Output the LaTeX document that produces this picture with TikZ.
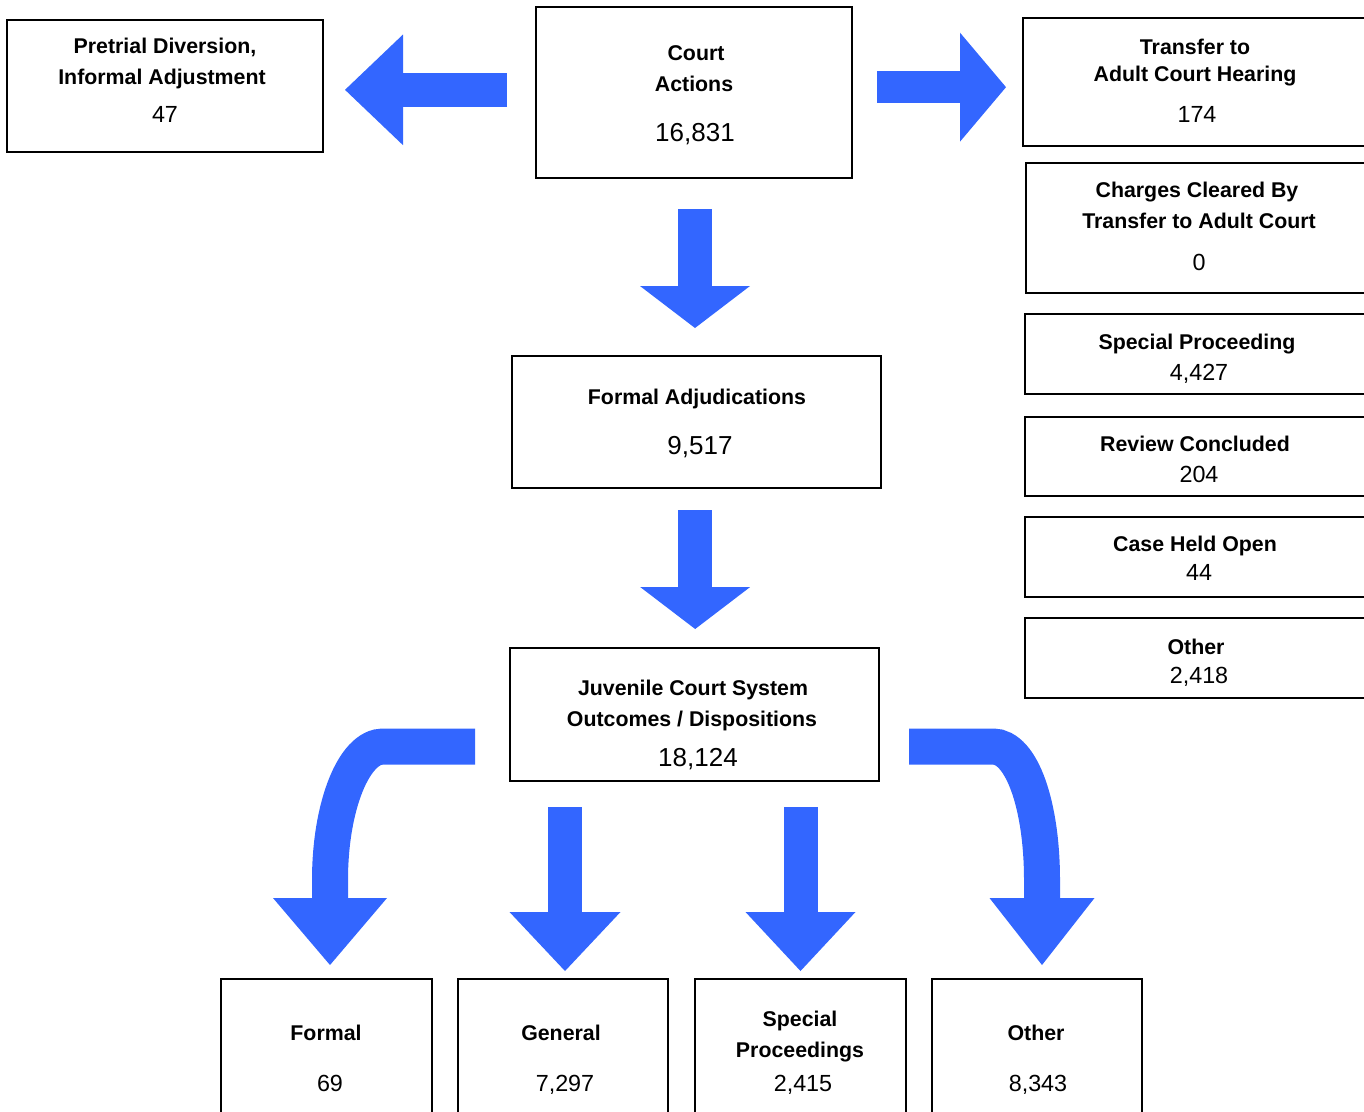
\documentclass[tikz,border=0pt]{standalone}
\usepackage{fontspec}
\setmainfont{Liberation Sans}
\usetikzlibrary{arrows.meta,fit,calc}
\definecolor{arrowblue}{RGB}{51,102,255}
\tikzset{
  box/.style={draw, line width=1.5pt, inner sep=0pt},
  lbl/.style={font=\fontsize{16}{19}\selectfont\bfseries, anchor=base, inner sep=0pt},
  num/.style={font=\fontsize{17.5}{20}\selectfont, anchor=base, inner sep=0pt},
  bignum/.style={font=\fontsize{19.5}{22}\selectfont, anchor=base, inner sep=0pt},
  bigarrow/.style n args={3}{draw=arrowblue, line width=#1, -{Triangle[width=#2, length=#3, line width=0pt]}}
}

\begin{document}
\begin{tikzpicture}[x=0.75pt, y=-0.75pt]
\useasboundingbox (0,0) rectangle (1364,1111);
\clip (0,0) rectangle (1364,1111);

% boxes
\node[box, fit={(7,20) (323,152)}] (pretrial) {};
\node[box, fit={(536,7) (852,178)}] (court) {};
\node[box, fit={(1023,18) (1380,146)}] (transfer) {};
\node[box, fit={(1026,163) (1380,293)}] (cleared) {};
\node[box, fit={(1025,314) (1380,394)}] (specproc) {};
\node[box, fit={(1025,417) (1380,496)}] (review) {};
\node[box, fit={(1025,517) (1380,597)}] (heldopen) {};
\node[box, fit={(1025,618) (1380,698)}] (otherright) {};
\node[box, fit={(512,356) (881,488)}] (fadj) {};
\node[box, fit={(510,648) (879,781)}] (juv) {};
\node[box, fit={(221,979) (432,1130)}] (fml) {};
\node[box, fit={(458,979) (668,1130)}] (gen) {};
\node[box, fit={(695,979) (906,1130)}] (spc) {};
\node[box, fit={(932,979) (1142,1130)}] (oth) {};

% texts
\node[lbl] (pretrial-l1) at (165,53.6) {Pretrial Diversion,};
\node[lbl] (pretrial-l2) at (162,84.6) {Informal Adjustment};
\node[num] (pretrial-n) at (165,122.3) {47};
\node[lbl] (court-l1) at (696,60.6) {Court};
\node[lbl] (court-l2) at (694,91.6) {Actions};
\node[bignum] (court-n) at (695,141.3) {16,831};
\node[lbl] (transfer-l1) at (1195,54.6) {Transfer to};
\node[lbl] (transfer-l2) at (1195,81.6) {Adult Court Hearing};
\node[num] (transfer-n) at (1197,122.3) {174};
\node[lbl] (cleared-l1) at (1197,197.6) {Charges Cleared By};
\node[lbl] (cleared-l2) at (1199,228.6) {Transfer to Adult Court};
\node[num] (cleared-n) at (1199,270.3) {0};
\node[lbl] (specproc-l) at (1197,349.6) {Special Proceeding};
\node[num] (specproc-n) at (1199,380.3) {4,427};
\node[lbl] (review-l) at (1195,451.6) {Review Concluded};
\node[num] (review-n) at (1199,482.3) {204};
\node[lbl] (heldopen-l) at (1195,551.6) {Case Held Open};
\node[num] (heldopen-n) at (1199,580.3) {44};
\node[lbl] (otherright-l) at (1196,654.6) {Other};
\node[num] (otherright-n) at (1199,683.3) {2,418};
\node[lbl] (fadj-l) at (697,404.6) {Formal Adjudications};
\node[bignum] (fadj-n) at (700,454.3) {9,517};
\node[lbl] (juv-l1) at (693,695.6) {Juvenile Court System};
\node[lbl] (juv-l2) at (692,726.6) {Outcomes / Dispositions};
\node[bignum] (juv-n) at (698,766.3) {18,124};
\node[lbl] (fml-l) at (326,1040.6) {Formal};
\node[num] (fml-n) at (330,1091.3) {69};
\node[lbl] (gen-l) at (561,1040.6) {General};
\node[num] (gen-n) at (565,1091.3) {7,297};
\node[lbl] (spc-l1) at (800,1026.6) {Special};
\node[lbl] (spc-l2) at (800,1057.6) {Proceedings};
\node[num] (spc-n) at (803,1091.3) {2,415};
\node[lbl] (oth-l) at (1036,1040.6) {Other};
\node[num] (oth-n) at (1038,1091.3) {8,343};

% arrows
\draw[bigarrow={25.5pt}{83pt}{43.5pt}, shorten <=21pt, shorten >=15.75pt] ([yshift=2pt]court.west) -- ([yshift=2pt]court.west -| pretrial.east);
\draw[bigarrow={24pt}{81.75pt}{34.5pt}, shorten <=18pt, shorten >=12pt] ([yshift=4pt]court.east) -- ([yshift=4pt]court.east -| transfer.west);
\draw[bigarrow={25.5pt}{82.5pt}{31.5pt}, shorten <=22.5pt, shorten >=20.25pt] ([xshift=0.75pt]court.south) -- ([xshift=0.75pt]court.south |- fadj.north);
\draw[bigarrow={25.5pt}{82.5pt}{31.5pt}, shorten <=15.75pt, shorten >=13.5pt] ([xshift=-1pt]fadj.south) -- ([xshift=-1pt]fadj.south |- juv.north);
\draw[bigarrow={25.5pt}{83.25pt}{44.25pt}, shorten <=18.75pt, shorten >=5.25pt] ([xshift=1.5pt]gen.north |- juv.south) -- ([xshift=1.5pt]gen.north);
\draw[bigarrow={25.5pt}{82.5pt}{44.25pt}, shorten <=18.75pt, shorten >=5.25pt] (spc.north |- juv.south) -- (spc.north);
\draw[bigarrow={27pt}{85.5pt}{50.25pt}] ($(juv.west)+(-34,32)$) -- (383,746.5) .. controls (354,746.5) and (330,806) .. (330,880) -- (330,965);
\draw[bigarrow={27pt}{78.75pt}{50.25pt}] ($(juv.east)+(29,32)$) -- (993,746.5) .. controls (1022,746.5) and (1042,806) .. (1042,880) -- (1042,965);
\end{tikzpicture}
\end{document}
